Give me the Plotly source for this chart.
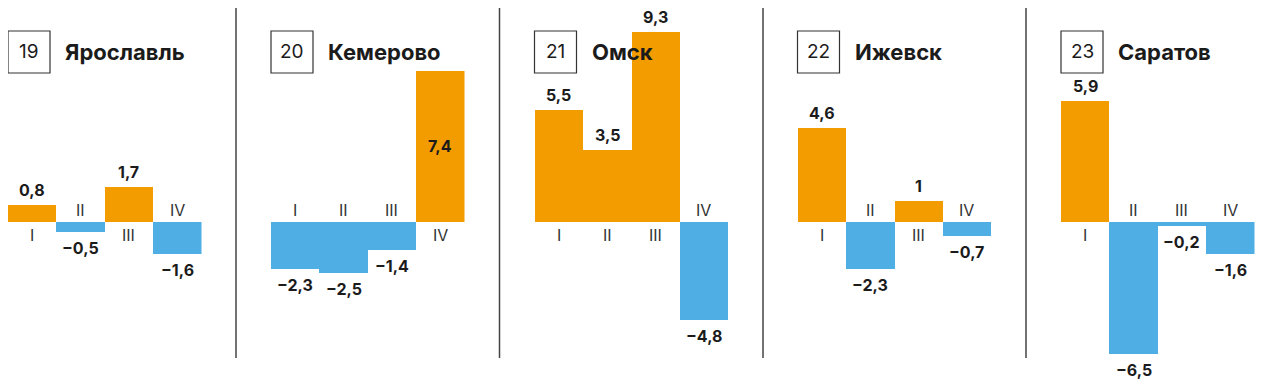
import plotly.graph_objects as go

# page body has an 8px margin; the figure is sized to fit the window
OFF = 8
W, H = 1263 - OFF, 383 - OFF

quarters = ["I", "II", "III", "IV"]
cities = ["Ярославль", "Кемерово", "Омск", "Ижевск", "Саратов"]
numbers = ["19", "20", "21", "22", "23"]
yaroslavl = [0.8, -0.5, 1.7, -1.6]
kemerovo = [-2.3, -2.5, -1.4, 7.4]
omsk = [5.5, 3.5, 9.3, -4.8]
izhevsk = [4.6, -2.3, 1.0, -0.7]
saratov = [5.9, -6.5, -0.2, -1.6]
series = [yaroslavl, kemerovo, omsk, izhevsk, saratov]

ORANGE = "#F39C00"
BLUE = "#4FAEE3"
TXT = "#1b1b1b"
FONT = "Inter"

panel_x0 = [8, 271, 534.5, 797.5, 1061]
panel_w = 193.5
dividers = [236, 499.5, 763, 1026]
inside_label = {(1, 3)}  # Кемерово IV label drawn inside the bar


def fmt(v):
    s = ("%d" % round(abs(v))) if abs(v - round(v)) < 1e-9 else ("%.1f" % abs(v)).replace(".", ",")
    return ("−" + s) if v < 0 else s


def px(x):
    return (x - OFF) / W


def py(y):
    return 1 - (y - OFF) / H


fig = go.Figure()
annotations = []
shapes = []
layout = {}

for i, (city, vals) in enumerate(zip(cities, series)):
    ax = "x" if i == 0 else "x%d" % (i + 1)
    axkey = "xaxis" if i == 0 else "xaxis%d" % (i + 1)
    colors = [ORANGE if v >= 0 else BLUE for v in vals]
    fig.add_trace(go.Bar(x=quarters, y=vals, xaxis=ax, yaxis="y",
                         marker=dict(color=colors, line=dict(width=0)),
                         showlegend=False, hoverinfo="skip"))
    x0 = panel_x0[i]
    layout[axkey] = dict(domain=[max(0, px(x0)), min(1, px(x0 + panel_w))], anchor="y",
                         range=[-0.5, 3.5], visible=False, fixedrange=True)
    for j, (q, v) in enumerate(zip(quarters, vals)):
        if (i, j) in inside_label:
            annotations.append(dict(x=q, y=v / 2, xref=ax, yref="y", text=fmt(v),
                                    showarrow=False, yanchor="middle",
                                    font=dict(family=FONT, size=16, color=TXT, weight="bold")))
        else:
            annotations.append(dict(x=q, y=v, xref=ax, yref="y", text=fmt(v),
                                    showarrow=False, yanchor="middle",
                                    yshift=15 if v >= 0 else -16,
                                    font=dict(family=FONT, size=16, color=TXT, weight="bold")))
        annotations.append(dict(x=q, y=0, xref=ax, yref="y", text=q,
                                showarrow=False, yanchor="middle",
                                yshift=-13 if v >= 0 else 12,
                                font=dict(family=FONT, size=16, color="#333333")))
    bx0, by0 = x0, 31
    shapes.append(dict(type="rect", xref="paper", yref="paper",
                       x0=px(bx0), x1=px(bx0 + 42), y0=py(by0 + 42), y1=py(by0),
                       line=dict(color="#333333", width=1.2), fillcolor="white", layer="above"))
    annotations.append(dict(x=px(bx0 + 21), y=py(by0 + 21), xref="paper", yref="paper",
                            text=numbers[i], showarrow=False, xanchor="center", yanchor="middle",
                            font=dict(family=FONT, size=19, color=TXT)))
    annotations.append(dict(x=px(bx0 + 55), y=py(by0 + 21), xref="paper", yref="paper",
                            text=city, showarrow=False, xanchor="left", yanchor="middle",
                            font=dict(family=FONT, size=22, color=TXT, weight="bold")))

for dx in dividers:
    shapes.append(dict(type="line", xref="paper", yref="paper",
                       x0=px(dx), x1=px(dx), y0=py(358), y1=py(8),
                       line=dict(color="#444444", width=1.5)))

k = 20.4
zero_px = 221.7 - OFF
ymax = zero_px / k
ymin = ymax - H / k

fig.update_layout(
    width=W, height=H, margin=dict(l=0, r=0, t=0, b=0),
    paper_bgcolor="white", plot_bgcolor="white",
    bargap=0, showlegend=False,
    yaxis=dict(domain=[0, 1], range=[ymin, ymax], visible=False, fixedrange=True),
    annotations=annotations, shapes=shapes,
    **layout,
)

fig.write_html("out.html")
